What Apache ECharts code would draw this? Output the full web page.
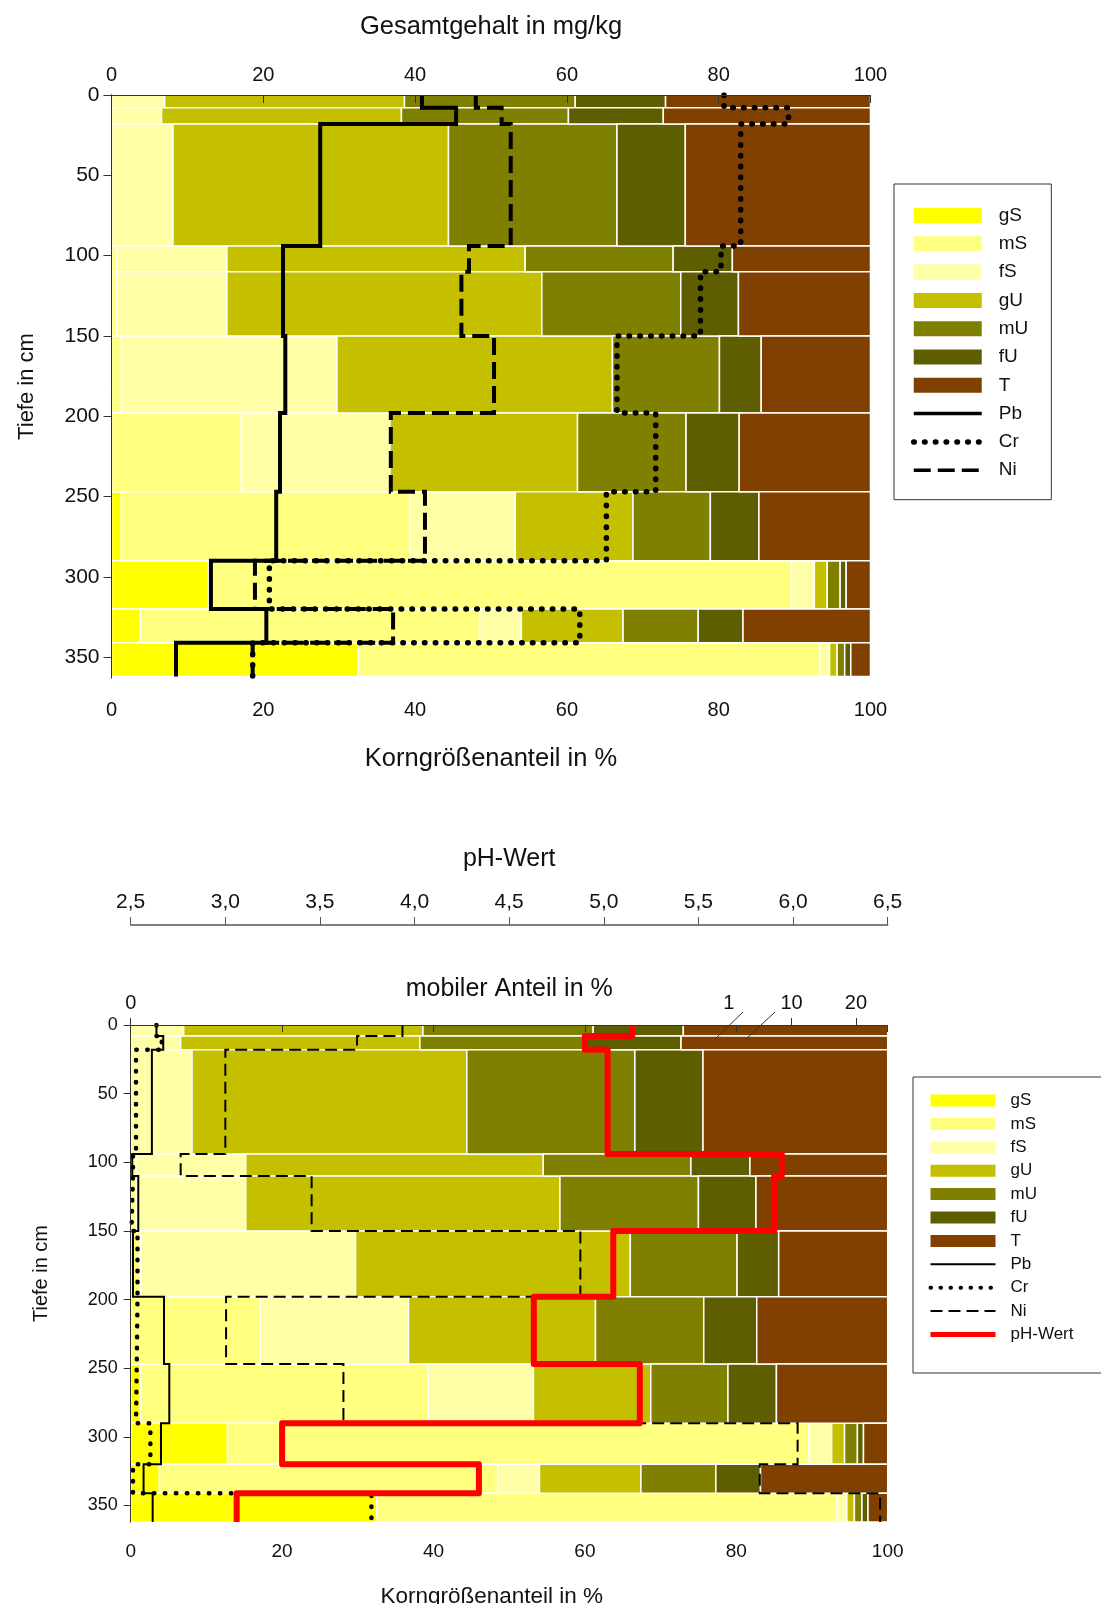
<!DOCTYPE html>
<html>
<head>
<meta charset="utf-8">
<script src="https://cdn.jsdelivr.net/npm/echarts@6/dist/echarts.min.js"></script>
<style>
  html, body { margin: 0; background: #fff; }
  #chart { width: 1101px; height: 1604px; }
</style>
</head>
<body>
<div id="chart"></div>
<script>
// Bodenhorizonte (Tiefe in cm)
const layerTop    = [0, 8, 18, 94, 110, 150, 198, 247, 290, 320, 341];
const layerBottom = [8, 18, 94, 110, 150, 198, 247, 290, 320, 341, 362];

// Korngrößenanteile in % je Horizont
const gS = [0, 0, 0, 0, 0, 0, 0, 1.3, 12.8, 3.8, 32.5];
const mS = [0, 0, 0, 0.7, 0.7, 1.3, 17.1, 38.0, 76.8, 44.7, 60.8];
const fS = [7.0, 6.6, 8.1, 14.5, 14.5, 28.4, 19.6, 13.9, 3.0, 5.5, 1.3];
const gU = [31.6, 31.6, 36.3, 39.3, 41.5, 36.3, 24.7, 15.5, 1.7, 13.4, 1.0];
const mU = [22.5, 22.0, 22.2, 19.5, 18.3, 14.1, 14.3, 10.2, 1.7, 9.9, 1.0];
const fU = [11.9, 12.5, 9.0, 7.8, 7.6, 5.5, 7.0, 6.4, 0.8, 5.9, 0.8];
const T  = [27.0, 27.3, 24.4, 18.2, 17.4, 14.4, 17.3, 14.7, 3.2, 16.8, 2.6];

// Gesamtgehalt in mg/kg
const pbTotal = [40.9, 45.4, 27.5, 22.6, 22.6, 22.9, 22.2, 21.7, 13.1, 20.4, 8.5];
const crTotal = [80.7, 89.2, 82.9, 80.3, 77.6, 66.6, 71.7, 65.2, 20.8, 61.7, 18.6];
const niTotal = [48.0, 51.4, 52.6, 47.1, 46.1, 50.4, 36.8, 41.3, 18.9, 37.1, 18.6];

// mobiler Anteil, in Teilen der gebrochenen Achse (0..100)
const pbMobile = [3.4, 4.3, 2.8, 0.2, 1.0, 0.3, 4.4, 5.1, 4.0, 1.7, 2.9];
const crMobile = [3.4, 4.1, 0.7, 0.3, 0.1, 0.9, 0.8, 0.7, 2.6, 0.3, 31.8];
const niMobile = [35.9, 29.9, 12.5, 6.6, 23.9, 59.4, 12.6, 28.1, 88.1, 83.1, 99.0];
const mobTickAt     = [0, 79, 87.3, 95.8];
const mobTickLabels = ['0', '1', '10', '20'];

// pH-Wert
const phValue = [5.15, 4.90, 5.02, 5.94, 5.90, 5.05, 4.63, 5.19, 3.30, 4.34, 3.06];

const depthTicks = [0, 50, 100, 150, 200, 250, 300, 350];

const fractionNames = ['gS', 'mS', 'fS', 'gU', 'mU', 'fU', 'T'];
const fractionData = [gS, mS, fS, gU, mU, fU, T];
const fractionColors = ['#ffff00', '#ffff80', '#ffffa8', '#c4c000', '#808000', '#5e5e00', '#804000'];

const font = 'Liberation Sans, Arial, sans-serif';

// Zellen [von %, bis %, Tiefe oben, Tiefe unten] pro Fraktion
function cellsFor(k) {
  const out = [];
  layerTop.forEach((top, i) => {
    let acc = 0;
    for (let j = 0; j < k; j++) acc += fractionData[j][i];
    const v = fractionData[k][i];
    if (v > 0) out.push([acc, acc + v, top, layerBottom[i]]);
  });
  return out;
}

function steps(values) {
  const pts = [];
  values.forEach((v, i) => {
    pts.push([v, layerTop[i]], [v, layerBottom[i]]);
  });
  return pts;
}

function renderCell(params, api) {
  const p0 = api.coord([api.value(0), api.value(2)]);
  const p1 = api.coord([api.value(1), api.value(3)]);
  return {
    type: 'rect',
    shape: { x: p0[0], y: p0[1], width: p1[0] - p0[0], height: p1[1] - p0[1] },
    style: { fill: api.visual('color'), stroke: '#ffffff', lineWidth: 1.5 }
  };
}

function barSeries(gridIdx) {
  return fractionNames.map((name, k) => ({
    name: name,
    type: 'custom',
    xAxisIndex: gridIdx === 0 ? 0 : 2,
    yAxisIndex: gridIdx === 0 ? 0 : 1,
    itemStyle: { color: fractionColors[k] },
    renderItem: renderCell,
    encode: { x: [0, 1], y: [2, 3] },
    clip: true,
    z: 2,
    data: cellsFor(k)
  }));
}

function stepLine(name, values, xIdx, yIdx, lineStyle) {
  return {
    name: name,
    type: 'line',
    xAxisIndex: xIdx,
    yAxisIndex: yIdx,
    symbol: 'none',
    z: 5,
    lineStyle: Object.assign({ color: '#000', join: 'miter' }, lineStyle),
    data: steps(values)
  };
}

const axisLineStyle = { lineStyle: { color: '#333', width: 1 } };
const txt = (size) => ({ fontSize: size, color: '#111', fontFamily: font });
const hideSym = { opacity: 0 };

const chart = echarts.init(document.getElementById('chart'), null, { renderer: 'canvas' });

const option = {
  animation: false,
  textStyle: { fontFamily: font },
  grid: [
    { left: 111.5, top: 95, width: 759, height: 583, containLabel: false, outerBoundsMode: 'none' },
    { left: 130.7, top: 1025, width: 757, height: 497, containLabel: false, outerBoundsMode: 'none' }
  ],
  xAxis: [
    {
      gridIndex: 0, type: 'value', position: 'bottom', min: 0, max: 100, interval: 20, z: 10,
      axisLine: axisLineStyle, splitLine: { show: false },
      axisTick: { length: 8, lineStyle: { color: '#333' } },
      axisLabel: Object.assign({ margin: 22 }, txt(20)),
      name: 'Korngrößenanteil in %', nameLocation: 'middle', nameGap: 68, nameMoveOverlap: false,
      nameTextStyle: txt(25.5)
    },
    {
      gridIndex: 0, type: 'value', position: 'top', min: 0, max: 100, interval: 20, z: 10,
      axisLine: axisLineStyle, splitLine: { show: false },
      axisTick: { show: false },
      axisLabel: Object.assign({ margin: 10 }, txt(20)),
      name: 'Gesamtgehalt in mg/kg', nameLocation: 'middle', nameGap: 55, nameMoveOverlap: false,
      nameTextStyle: txt(25.5)
    },
    {
      gridIndex: 1, type: 'value', position: 'bottom', min: 0, max: 100, interval: 20, z: 10,
      axisLine: axisLineStyle, splitLine: { show: false },
      axisTick: { length: 7, lineStyle: { color: '#333' } },
      axisLabel: Object.assign({ margin: 20 }, txt(19)),
      name: 'Korngrößenanteil in %', nameLocation: 'middle', nameGap: 63, nameMoveOverlap: false,
      nameTextStyle: Object.assign({ padding: [0, 35, 0, 0] }, txt(22.5))
    },
    {
      gridIndex: 1, type: 'value', position: 'top', min: 0, max: 100, z: 10,
      axisLine: axisLineStyle, splitLine: { show: false },
      axisTick: { length: 7, customValues: [mobTickAt[0], mobTickAt[2], mobTickAt[3]], lineStyle: { color: '#333' } },
      axisLabel: Object.assign({
        margin: 12,
        customValues: mobTickAt,
        formatter: v => mobTickLabels[mobTickAt.indexOf(v)]
      }, txt(20)),
      name: 'mobiler Anteil in %', nameLocation: 'middle', nameGap: 23, nameMoveOverlap: false,
      nameTextStyle: txt(25)
    },
    {
      gridIndex: 1, type: 'value', position: 'top', offset: 100, min: 2.5, max: 6.5, interval: 0.5, z: 10,
      axisLine: { lineStyle: { color: '#555', width: 1.5 } }, splitLine: { show: false },
      axisTick: { length: 8, lineStyle: { color: '#555' } },
      axisLabel: Object.assign({ margin: 12, formatter: v => v.toFixed(1).replace('.', ',') }, txt(21)),
      name: 'pH-Wert', nameLocation: 'middle', nameGap: 53, nameMoveOverlap: false,
      nameTextStyle: txt(25)
    }
  ],
  yAxis: [
    {
      gridIndex: 0, type: 'value', inverse: true, min: 0, max: 363, z: 10,
      axisLine: axisLineStyle, splitLine: { show: false },
      axisTick: { length: 8, customValues: depthTicks, lineStyle: { color: '#333' } },
      axisLabel: Object.assign({ margin: 12, customValues: depthTicks }, txt(21)),
      name: 'Tiefe in cm', nameLocation: 'middle', nameGap: 74, nameMoveOverlap: false,
      nameTextStyle: txt(22)
    },
    {
      gridIndex: 1, type: 'value', inverse: true, min: 0, max: 362, z: 10,
      axisLine: axisLineStyle, splitLine: { show: false },
      axisTick: { length: 7, customValues: depthTicks, lineStyle: { color: '#333' } },
      axisLabel: Object.assign({ margin: 13, customValues: depthTicks }, txt(18)),
      name: 'Tiefe in cm', nameLocation: 'middle', nameGap: 79, nameMoveOverlap: false,
      nameTextStyle: txt(20)
    },
    {
      gridIndex: 0, type: 'value', position: 'right', inverse: true, min: 0, max: 363, z: 10,
      axisLine: { show: true, lineStyle: { color: '#333' } },
      axisTick: { show: false }, axisLabel: { show: false }, splitLine: { show: false }
    },
    {
      gridIndex: 1, type: 'value', position: 'right', inverse: true, min: 0, max: 362, z: 10,
      axisLine: { show: true, lineStyle: { color: '#333' } },
      axisTick: { show: false }, axisLabel: { show: false }, splitLine: { show: false }
    }
  ],
  legend: [
    {
      orient: 'vertical', left: 894, top: 184,
      padding: [22, 23, 20, 17],
      borderColor: '#333', borderWidth: 1,
      itemWidth: 68, itemHeight: 15, itemGap: 9.3,
      textStyle: Object.assign({ padding: [0, 0, 0, 12] }, txt(19)),
      data: fractionNames.map(n => ({ name: n, icon: 'rect' })).concat([
        { name: 'Pb', itemStyle: hideSym, lineStyle: { width: 3.5 } },
        { name: 'Cr', itemStyle: hideSym, lineStyle: { width: 5.5 } },
        { name: 'Ni', itemStyle: hideSym, lineStyle: { width: 3.5 } }
      ])
    },
    {
      orient: 'vertical', left: 913, top: 1077,
      padding: [15, 60, 30, 15],
      borderColor: '#333', borderWidth: 1,
      itemWidth: 65, itemHeight: 12, itemGap: 6.4,
      textStyle: Object.assign({ padding: [0, 0, 0, 10] }, txt(17)),
      data: fractionNames.map(n => ({ name: n, icon: 'rect' })).concat([
        { name: 'Pb', itemStyle: hideSym, lineStyle: { width: 2, type: 'solid' } },
        { name: 'Cr', itemStyle: hideSym, lineStyle: { width: 4, type: [0.5, 9.5], cap: 'round' } },
        { name: 'Ni', itemStyle: hideSym, lineStyle: { width: 2, type: [12, 6] } },
        { name: 'pH-Wert', itemStyle: hideSym, lineStyle: { width: 5 } }
      ])
    }
  ],
  graphic: [
    { type: 'line', z: 20, shape: { x1: 743, y1: 1012, x2: 715, y2: 1039 }, style: { stroke: '#333', lineWidth: 1 } },
    { type: 'line', z: 20, shape: { x1: 775, y1: 1012, x2: 746, y2: 1039 }, style: { stroke: '#333', lineWidth: 1 } }
  ],
  series: [].concat(
    barSeries(0),
    barSeries(1),
    [
      stepLine('Pb', pbTotal, 1, 0, { width: 4 }),
      stepLine('Cr', crTotal, 1, 0, { width: 5.5, type: [0.5, 10.3], cap: 'round' }),
      stepLine('Ni', niTotal, 1, 0, { width: 4, type: [17, 7] }),
      stepLine('Pb', pbMobile, 3, 1, { width: 2 }),
      stepLine('Cr', crMobile, 3, 1, { width: 4.5, type: [0.5, 10.5], cap: 'round' }),
      stepLine('Ni', niMobile, 3, 1, { width: 2, type: [12, 6] }),
      stepLine('pH-Wert', phValue, 4, 1, { width: 6, color: '#ff0000', join: 'round' })
    ]
  )
};

chart.setOption(option);
</script>
</body>
</html>
